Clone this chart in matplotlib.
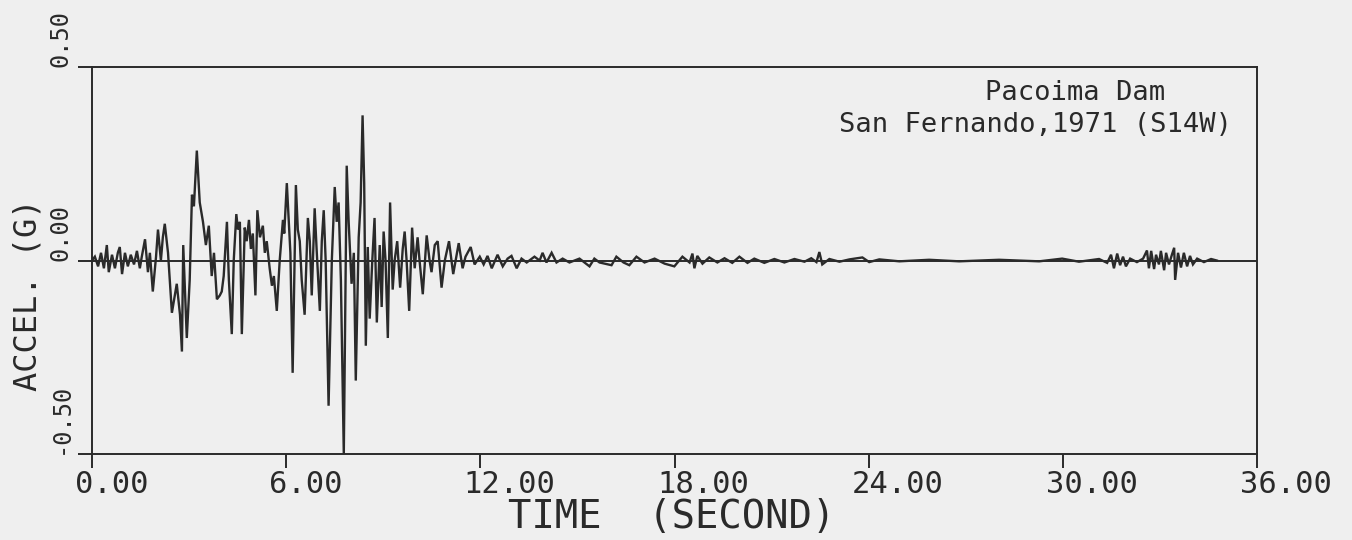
import matplotlib
matplotlib.use("Agg")
import matplotlib.pyplot as plt
import matplotlib.transforms as mtransforms
import numpy as np

# digitised acceleration record (time in s, accel in g)
time_s = [
    0.00, 0.09, 0.19, 0.28, 0.37, 0.46, 0.52, 0.62, 0.71, 0.80,
    0.86, 0.93, 1.02, 1.11, 1.20, 1.30, 1.39, 1.48, 1.54, 1.64,
    1.73, 1.79, 1.88, 1.98, 2.04, 2.13, 2.19, 2.25, 2.35, 2.47,
    2.56, 2.62, 2.72, 2.78, 2.82, 2.93, 3.02, 3.09, 3.15, 3.24,
    3.33, 3.43, 3.52, 3.61, 3.70, 3.77, 3.86, 3.95, 4.01, 4.07,
    4.17, 4.23, 4.32, 4.38, 4.46, 4.51, 4.57, 4.63, 4.72, 4.78,
    4.85, 4.91, 4.97, 5.05, 5.11, 5.19, 5.28, 5.34, 5.40, 5.49,
    5.56, 5.62, 5.71, 5.80, 5.90, 5.94, 6.02, 6.08, 6.13, 6.20,
    6.30, 6.36, 6.42, 6.48, 6.57, 6.67, 6.73, 6.79, 6.88, 6.94,
    7.04, 7.10, 7.16, 7.22, 7.31, 7.41, 7.50, 7.56, 7.62, 7.69,
    7.78, 7.87, 7.93, 8.02, 8.09, 8.15, 8.24, 8.30, 8.36, 8.41,
    8.46, 8.52, 8.58, 8.66, 8.73, 8.80, 8.89, 8.95, 9.01, 9.07,
    9.14, 9.21, 9.29, 9.35, 9.43, 9.52, 9.60, 9.66, 9.72, 9.80,
    9.89, 9.97, 10.06, 10.12, 10.22, 10.34, 10.43, 10.49, 10.59, 10.68,
    10.80, 10.90, 11.03, 11.16, 11.33, 11.45, 11.54, 11.70, 11.82, 11.98,
    12.10, 12.22, 12.35, 12.53, 12.69, 12.84, 12.96, 13.12, 13.27, 13.43,
    13.67, 13.83, 13.92, 14.04, 14.20, 14.35, 14.54, 14.75, 15.06, 15.37,
    15.52, 15.68, 16.05, 16.20, 16.42, 16.60, 16.82, 17.07, 17.38, 17.69,
    17.99, 18.24, 18.46, 18.55, 18.61, 18.70, 18.86, 19.07, 19.32, 19.54,
    19.78, 20.00, 20.25, 20.46, 20.77, 21.08, 21.39, 21.70, 22.01, 22.22,
    22.38, 22.47, 22.56, 22.78, 23.09, 23.40, 23.80, 24.01, 24.32, 24.94,
    25.86, 26.79, 28.02, 29.26, 29.97, 30.49, 31.11, 31.36, 31.48, 31.57,
    31.67, 31.76, 31.85, 31.94, 32.07, 32.28, 32.47, 32.59, 32.65, 32.72,
    32.81, 32.87, 32.96, 33.02, 33.12, 33.18, 33.27, 33.36, 33.43, 33.46,
    33.55, 33.64, 33.73, 33.83, 33.92, 34.01, 34.14, 34.35, 34.57, 34.75,
]
accel_g = [
    0.000, 0.010, -0.015, 0.020, -0.020, 0.040, -0.030, 0.015, -0.020, 0.020,
    0.035, -0.035, 0.020, -0.015, 0.015, -0.010, 0.025, -0.020, 0.010, 0.055,
    -0.030, 0.020, -0.080, 0.010, 0.080, 0.000, 0.060, 0.095, 0.020, -0.135,
    -0.090, -0.060, -0.140, -0.235, 0.040, -0.200, -0.050, 0.170, 0.140, 0.284,
    0.150, 0.100, 0.040, 0.090, -0.040, 0.020, -0.100, -0.090, -0.080, -0.040,
    0.100, -0.050, -0.190, 0.000, 0.120, 0.080, 0.100, -0.190, 0.085, 0.050,
    0.105, 0.030, 0.070, -0.090, 0.130, 0.060, 0.090, 0.020, 0.050, -0.020,
    -0.065, -0.040, -0.130, 0.000, 0.105, 0.070, 0.200, 0.100, 0.020, -0.290,
    0.195, 0.080, 0.050, -0.050, -0.140, 0.110, 0.050, -0.090, 0.135, 0.030,
    -0.130, 0.050, 0.130, 0.000, -0.375, 0.000, 0.190, 0.100, 0.150, -0.050,
    -0.500, 0.245, 0.100, -0.060, 0.020, -0.310, 0.060, 0.150, 0.375, 0.200,
    -0.220, 0.035, -0.150, 0.000, 0.110, -0.160, 0.040, -0.120, 0.075, 0.000,
    -0.200, 0.150, -0.075, 0.000, 0.050, -0.070, 0.030, 0.075, 0.000, -0.130,
    0.085, -0.020, 0.060, 0.000, -0.087, 0.065, 0.000, -0.030, 0.040, 0.050,
    -0.070, 0.000, 0.050, -0.035, 0.045, -0.020, 0.010, 0.035, -0.010, 0.010,
    -0.010, 0.012, -0.020, 0.015, -0.015, 0.005, 0.012, -0.020, 0.005, -0.005,
    0.010, 0.000, 0.020, -0.005, 0.020, -0.005, 0.005, -0.005, 0.005, -0.015,
    0.005, -0.005, -0.012, 0.010, -0.005, -0.012, 0.010, -0.005, 0.005, -0.008,
    -0.015, 0.010, -0.005, 0.018, -0.020, 0.012, -0.008, 0.008, -0.005, 0.006,
    -0.006, 0.010, -0.006, 0.005, -0.006, 0.004, -0.005, 0.004, -0.003, 0.006,
    -0.004, 0.022, -0.010, 0.004, -0.003, 0.003, 0.008, -0.004, 0.003, -0.002,
    0.002, -0.002, 0.002, -0.002, 0.005, -0.003, 0.004, -0.006, 0.015, -0.020,
    0.018, -0.012, 0.010, -0.015, 0.005, -0.004, 0.005, 0.026, -0.020, 0.025,
    -0.022, 0.015, -0.010, 0.025, -0.025, 0.020, -0.010, 0.015, 0.033, -0.050,
    0.020, -0.018, 0.020, -0.015, 0.012, -0.010, 0.005, -0.004, 0.004, 0.000,
]

x_ticks = [0, 6, 12, 18, 24, 30, 36]
x_tick_labels = ["0.00", "6.00", "12.00", "18.00", "24.00", "30.00", "36.00"]
y_ticks = [-0.5, 0.0, 0.5]
y_tick_labels = ["-0.50", "0.00", "0.50"]
note_lines = ["Pacoima Dam", "San Fernando,1971 (S14W)"]

ink = "#2a2a2a"
paper = "#efefef"
mono = "DejaVu Sans Mono"

fig = plt.figure(figsize=(13.52, 5.4), dpi=100, facecolor=paper)
ax = fig.add_axes([0.068, 0.159, 0.862, 0.717], facecolor=paper)

ax.plot(time_s, accel_g, color=ink, lw=1.7, solid_joinstyle="miter")
ax.axhline(0, color=ink, lw=1.4, zorder=1)

ax.set_xlim(0, 36)
ax.set_ylim(-0.5, 0.5)
for s in ax.spines.values():
    s.set_color(ink)
    s.set_linewidth(1.4)

ax.set_xticks(x_ticks)
ax.set_yticks(y_ticks)
ax.set_xticklabels([])
ax.set_yticklabels([])
ax.tick_params(axis="both", direction="out", length=10, width=1.4, color=ink)

# x tick labels, left-aligned just before the tick
xtrans = mtransforms.offset_copy(ax.get_xaxis_transform(), fig=fig, x=-17, y=0, units="dots")
for v, lab in zip(x_ticks, x_tick_labels):
    ax.text(v, -0.078, lab, transform=xtrans, ha="left", va="center",
            fontsize=22, family=mono, color=ink)

# y tick labels, rotated, starting at the tick
ytrans = ax.get_yaxis_transform()
for v, lab in zip(y_ticks, y_tick_labels):
    ax.text(-0.027, v, lab, transform=ytrans, rotation=90, rotation_mode="anchor",
            ha="left", va="center", fontsize=17, family=mono, color=ink)

fig.text(0.497 * 0.862 + 0.068, 0.043, "TIME  (SECOND)", ha="center", va="center",
         fontsize=28, family=mono, color=ink)
fig.text(0.021, 0.454, "ACCEL. (G)", rotation=90, ha="center", va="center",
         fontsize=23, family=mono, color=ink)

ax.text(0.766, 0.933, note_lines[0], transform=ax.transAxes, ha="left", va="center",
        fontsize=19.5, family=mono, color=ink)
ax.text(0.641, 0.850, note_lines[1], transform=ax.transAxes, ha="left", va="center",
        fontsize=19.5, family=mono, color=ink)

fig.savefig("out.png", dpi=100, facecolor=paper)
